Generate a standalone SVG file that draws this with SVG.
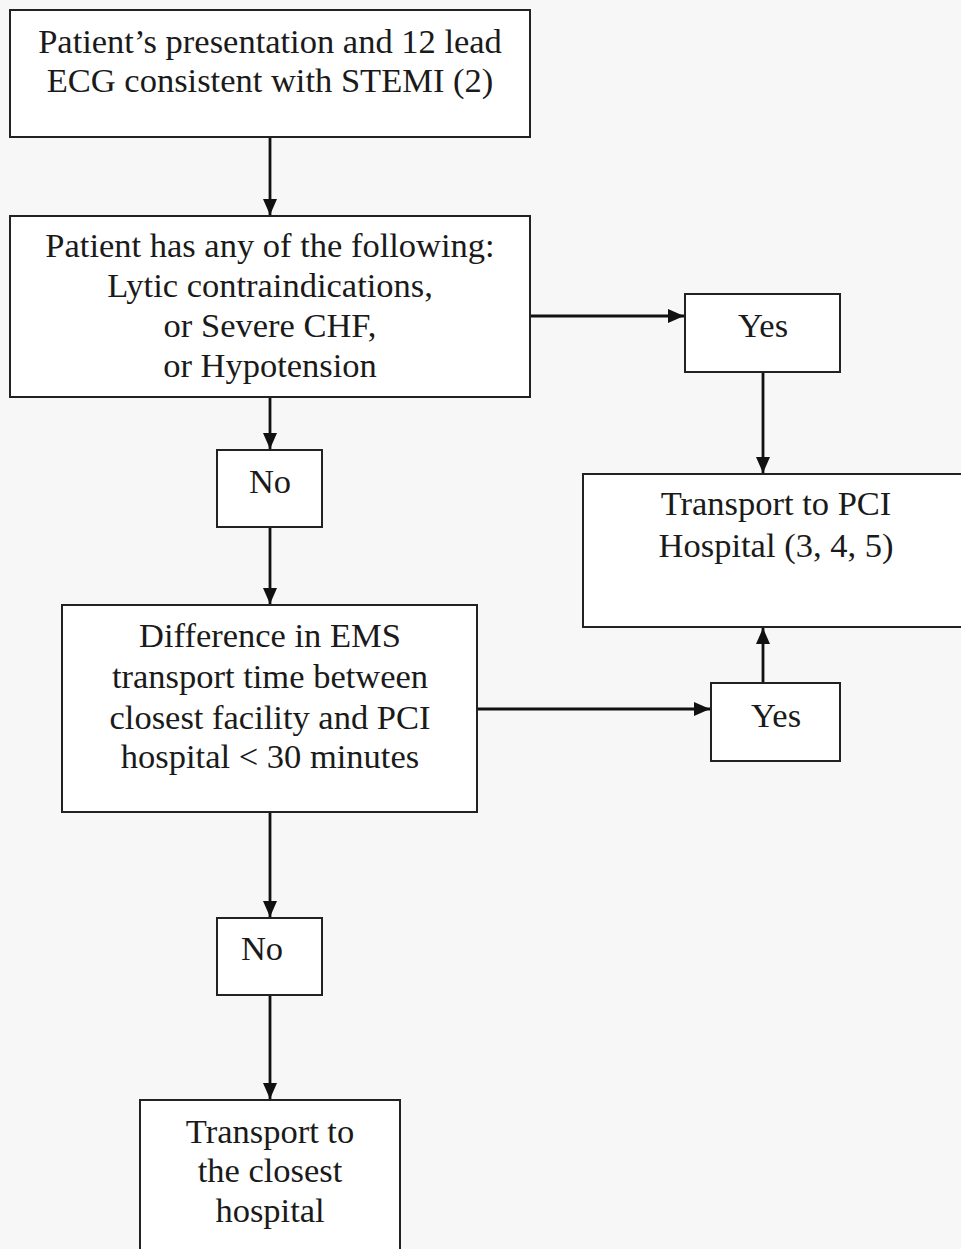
<svg xmlns="http://www.w3.org/2000/svg" width="961" height="1249" viewBox="0 0 961 1249">
<style>
.box{fill:#ffffff;stroke:#222;stroke-width:2}
.t{font-family:"Liberation Serif","Times New Roman",serif;font-size:34.5px;fill:#1a1a1a;text-anchor:middle}
.c{stroke:#111;stroke-width:2.8;fill:none}
</style>
<defs>
<marker id="ah" viewBox="0 0 16 14" refX="16" refY="7" markerWidth="16" markerHeight="14" markerUnits="userSpaceOnUse" orient="auto">
<path d="M0,0 L16,7 L0,14 z" fill="#111"/>
</marker>
</defs>
<rect x="0" y="0" width="961" height="1249" fill="#f7f7f7"/>
<g id="connectors">
<line class="c" x1="270" y1="138" x2="270" y2="215" marker-end="url(#ah)"/>
<line class="c" x1="531" y1="316" x2="684" y2="316" marker-end="url(#ah)"/>
<line class="c" x1="763" y1="372" x2="763" y2="473" marker-end="url(#ah)"/>
<line class="c" x1="270" y1="398" x2="270" y2="449" marker-end="url(#ah)"/>
<line class="c" x1="270" y1="528" x2="270" y2="604" marker-end="url(#ah)"/>
<line class="c" x1="478" y1="709" x2="710" y2="709" marker-end="url(#ah)"/>
<line class="c" x1="763" y1="683" x2="763" y2="628" marker-end="url(#ah)"/>
<line class="c" x1="270" y1="813" x2="270" y2="917" marker-end="url(#ah)"/>
<line class="c" x1="270" y1="996" x2="270" y2="1099" marker-end="url(#ah)"/>
</g>
<g id="n1">
<rect class="box" x="10" y="10" width="520" height="127"/>
<text class="t" x="270" y="53">Patient’s presentation and 12 lead</text>
<text class="t" x="270" y="92">ECG consistent with STEMI (2)</text>
</g>
<g id="n2">
<rect class="box" x="10" y="216" width="520" height="181"/>
<text class="t" x="270" y="257">Patient has any of the following:</text>
<text class="t" x="270" y="297">Lytic contraindications,</text>
<text class="t" x="270" y="337">or Severe CHF,</text>
<text class="t" x="270" y="377">or Hypotension</text>
</g>
<g id="yes1">
<rect class="box" x="685" y="294" width="155" height="78"/>
<text class="t" x="763" y="337">Yes</text>
</g>
<g id="pci">
<rect class="box" x="583" y="474" width="390" height="153"/>
<text class="t" x="776" y="515">Transport to PCI</text>
<text class="t" x="776" y="557">Hospital (3, 4, 5)</text>
</g>
<g id="no1">
<rect class="box" x="217" y="450" width="105" height="77"/>
<text class="t" x="270" y="493">No</text>
</g>
<g id="diff">
<rect class="box" x="62" y="605" width="415" height="207"/>
<text class="t" x="270" y="647">Difference in EMS</text>
<text class="t" x="270" y="688">transport time between</text>
<text class="t" x="270" y="729">closest facility and PCI</text>
<text class="t" x="270" y="768">hospital &lt; 30 minutes</text>
</g>
<g id="yes2">
<rect class="box" x="711" y="683" width="129" height="78"/>
<text class="t" x="776" y="727">Yes</text>
</g>
<g id="no2">
<rect class="box" x="217" y="918" width="105" height="77"/>
<text class="t" x="262" y="960">No</text>
</g>
<g id="closest">
<rect class="box" x="140" y="1100" width="260" height="160"/>
<text class="t" x="270" y="1143">Transport to</text>
<text class="t" x="270" y="1182">the closest</text>
<text class="t" x="270" y="1222">hospital</text>
</g>
</svg>
